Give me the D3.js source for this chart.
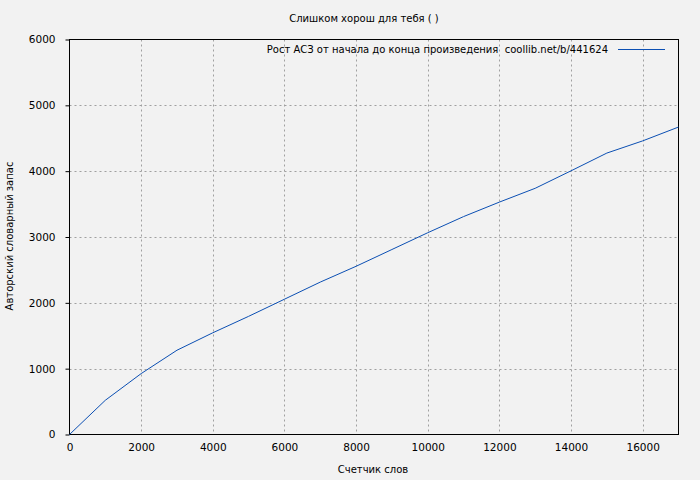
<!DOCTYPE html>
<html><head><meta charset="utf-8">
<script src="https://cdn.jsdelivr.net/npm/d3@7"></script>
<style>
html,body{margin:0;padding:0;background:#f2f2f2;}
svg{display:block;}
text{font-family:"DejaVu Sans",sans-serif;font-size:10px;fill:#000;}
</style></head><body>
<script>
const words = [0,1000,2000,3000,4000,5000,6000,7000,8000,9000,10000,11000,12000,13000,14000,15000,16000,17000];
const vocab = [0,520,925,1280,1545,1795,2055,2315,2555,2810,3065,3310,3530,3740,4005,4275,4460,4670];
const xTicks = [0,2000,4000,6000,8000,10000,12000,14000,16000];
const yTicks = [0,1000,2000,3000,4000,5000,6000];
const title = "Слишком хорош для тебя ( )";
const xLabel = "Счетчик слов";
const yLabel = "Авторский словарный запас";
const legendLabel = "Рост АСЗ от начала до конца произведения  coollib.net/b/441624";

const W=700,H=480;
const L=69.5,R=678.5,T=39.5,B=434.5;
const svg=d3.select("body").append("svg").attr("width",W).attr("height",H);
svg.append("rect").attr("width",W).attr("height",H).attr("fill","#f2f2f2");
const x=d3.scaleLinear().domain([0,17000]).range([L,R]);
const y=d3.scaleLinear().domain([0,6000]).range([B,T]);

// grid
const g=svg.append("g");
g.selectAll(".vg").data(xTicks.filter(d=>d>0)).enter().append("line")
 .attr("x1",d=>Math.round(x(d))+0.5).attr("x2",d=>Math.round(x(d))+0.5).attr("y1",T).attr("y2",B)
 .attr("stroke","#a0a0a0").attr("stroke-dasharray","2,3");
g.selectAll(".hg").data(yTicks.filter(d=>d>0&&d<6000)).enter().append("line")
 .attr("y1",d=>Math.round(y(d))+0.5).attr("y2",d=>Math.round(y(d))+0.5).attr("x1",L).attr("x2",R)
 .attr("stroke","#a0a0a0").attr("stroke-dasharray","2,3");

// axes
const xa=svg.append("g").attr("transform",`translate(0,${B})`)
 .call(d3.axisBottom(x).tickValues(xTicks).tickSize(0).tickPadding(9).tickFormat(d3.format("d")));
xa.select(".domain").remove();
const ya=svg.append("g").attr("transform",`translate(${L},0)`)
 .call(d3.axisLeft(y).tickValues(yTicks).tickSize(4).tickPadding(10).tickFormat(d3.format("d")));
ya.select(".domain").remove();
ya.selectAll("line").attr("stroke","#000");
svg.selectAll(".tick text").style("font-family","DejaVu Sans").style("font-size","10.5px").attr("fill","#000");

// border
svg.append("rect").attr("x",L).attr("y",T).attr("width",R-L).attr("height",B-T)
 .attr("fill","none").attr("stroke","#000");

// line
const line=d3.line().x((d,i)=>x(words[i])).y(d=>y(d));
svg.append("path").datum(vocab).attr("d",line).attr("fill","none").attr("stroke","#0b4fb3").attr("stroke-width",1);

// texts
svg.append("text").attr("x",364).attr("y",22).attr("text-anchor","middle").text(title);
svg.append("text").attr("x",373).attr("y",473).attr("text-anchor","middle").text(xLabel);
svg.append("text").attr("transform","translate(13,236) rotate(-90)").attr("text-anchor","middle").text(yLabel);
svg.append("text").attr("x",608).attr("y",53).attr("text-anchor","end").style("white-space","pre").text(legendLabel);
svg.append("line").attr("x1",618).attr("x2",665).attr("y1",49.5).attr("y2",49.5).attr("stroke","#0b4fb3");
</script></body></html>
